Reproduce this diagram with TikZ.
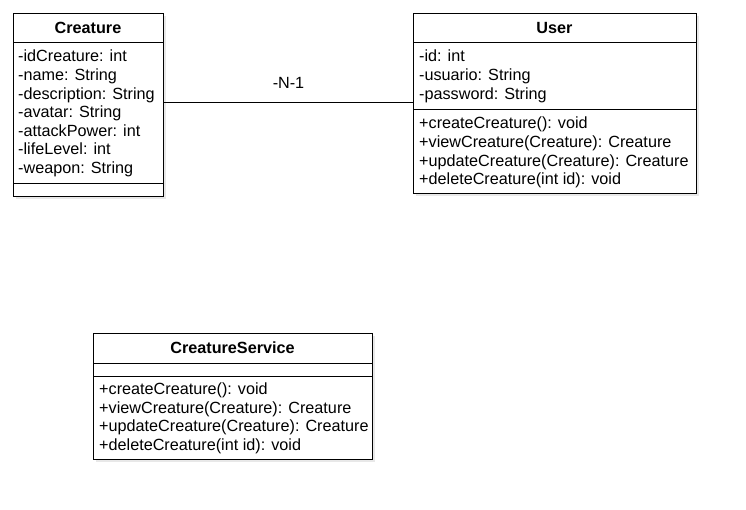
\documentclass[tikz,border=0pt]{standalone}
\usepackage{fontspec}
\setmainfont{Liberation Sans}
\begin{document}
\begin{tikzpicture}[x=1pt,y=-1pt,
  umlbox/.style={draw=black,line width=1pt,fill=white,inner sep=0pt,anchor=north west},
  member/.style={anchor=west,inner sep=0pt,text height=12pt,text depth=3pt,yshift=-1.5pt,font=\fontsize{16.2}{18}\selectfont},
  title/.style={inner sep=0pt,text height=12pt,text depth=3pt,yshift=-1.5pt,font=\fontsize{16.2}{18}\selectfont\bfseries},
  sep/.style={line width=1pt}]
\useasboundingbox (0,0) rectangle (746,510);
% shadows
\fill[black!9] (16,16) rectangle (166,199);
\fill[black!9] (416,16) rectangle (699,196);
\fill[black!9] (96,336) rectangle (375,462);
% Creature
\node[umlbox,minimum width=150pt,minimum height=183pt] (creature) at (13,13) {};
\node[title] (creatureT) at (88,27.5) {Creature};
\draw[sep] (13,43) -- (163,43);
\draw[sep] (13,184) -- (163,184);
\node[member] (c1) at (18,56) {-idCreature: int};
\node[member] (c2) at (18,74.6) {-name: String};
\node[member] (c3) at (18,93.2) {-description: String};
\node[member] (c4) at (18,111.8) {-avatar: String};
\node[member] (c5) at (18,130.4) {-attackPower: int};
\node[member] (c6) at (18,149) {-lifeLevel: int};
\node[member] (c7) at (18,167.6) {-weapon: String};
% User
\node[umlbox,minimum width=283pt,minimum height=180pt] (user) at (413,13) {};
\node[title] (userT) at (554.5,27.5) {User};
\draw[sep] (413,43) -- (696,43);
\draw[sep] (413,110) -- (696,110);
\node[member] (u1) at (419,56) {-id: int};
\node[member] (u2) at (419,74.6) {-usuario: String};
\node[member] (u3) at (419,93.2) {-password: String};
\node[member] (u4) at (419,123) {+createCreature(): void};
\node[member] (u5) at (419,141.6) {+viewCreature(Creature): Creature};
\node[member] (u6) at (419,160.2) {+updateCreature(Creature): Creature};
\node[member] (u7) at (419,178.8) {+deleteCreature(int id): void};
% CreatureService
\node[umlbox,minimum width=279pt,minimum height=126pt] (service) at (93,333) {};
\node[title] (serviceT) at (232.5,347.5) {CreatureService};
\draw[sep] (93,363) -- (372,363);
\draw[sep] (93,376) -- (372,376);
\node[member] (s1) at (99,388.5) {+createCreature(): void};
\node[member] (s2) at (99,407.1) {+viewCreature(Creature): Creature};
\node[member] (s3) at (99,425.7) {+updateCreature(Creature): Creature};
\node[member] (s4) at (99,444.3) {+deleteCreature(int id): void};
% association
\coordinate (ly) at (0,103);
\draw[line width=1pt] (creature.east |- ly) -- node[member,anchor=center,yshift=20pt] (lbl) {-N-1} (user.west |- ly);
\end{tikzpicture}
\end{document}
